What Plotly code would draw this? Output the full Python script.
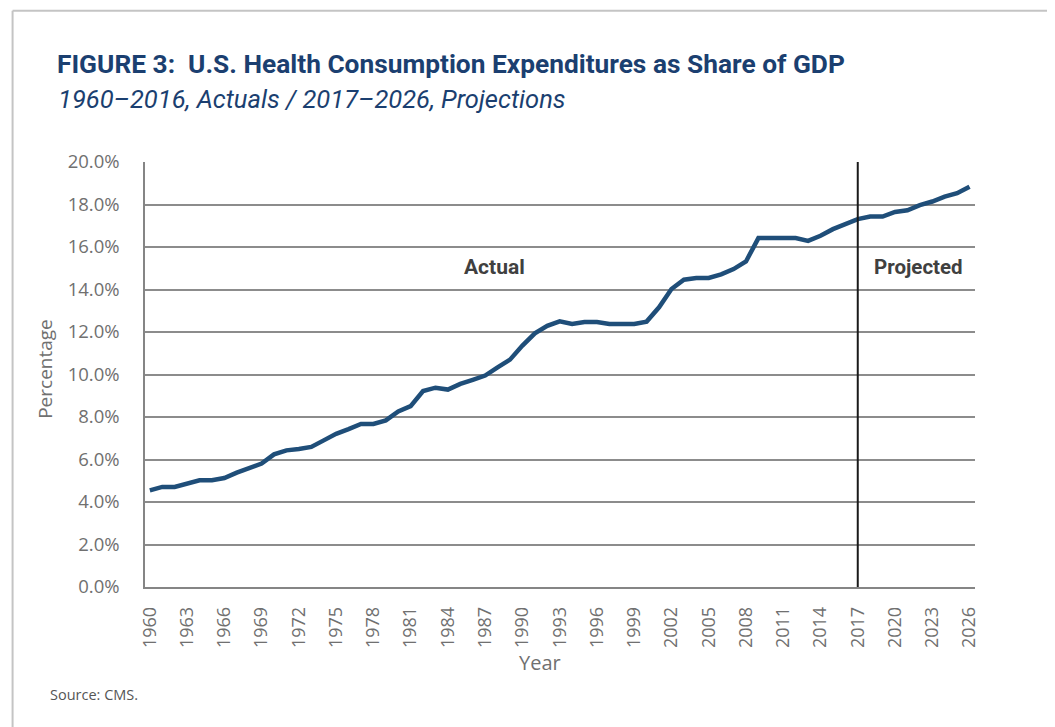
import plotly.graph_objects as go

years = list(range(1960, 2027))
share_pct = [
    4.55, 4.71, 4.71, 4.87, 5.02, 5.02, 5.13, 5.38, 5.62, 5.81,
    6.24, 6.43, 6.49, 6.59, 6.90, 7.21, 7.43, 7.67, 7.67, 7.84,
    8.26, 8.51, 9.22, 9.38, 9.29, 9.56, 9.75, 9.95, 10.34, 10.70,
    11.36, 11.94, 12.29, 12.50, 12.38, 12.47, 12.47, 12.38, 12.38, 12.38,
    12.49, 13.16, 14.02, 14.46, 14.54, 14.54, 14.71, 14.96, 15.32, 16.42,
    16.42, 16.42, 16.42, 16.29, 16.53, 16.84, 17.07, 17.31, 17.43, 17.43,
    17.65, 17.73, 17.97, 18.14, 18.37, 18.53, 18.84,
]
x_tick_years = list(range(1960, 2027, 3))
x_tick_text = [str(y) for y in x_tick_years]
y_tick_vals = [0, 2, 4, 6, 8, 10, 12, 14, 16, 18, 20]
y_tick_text = [f"{v:.1f}%" for v in y_tick_vals]
projection_start = 2017

OFF = 8  # page body margin
W, H = 1055 - OFF, 727 - OFF
L, R, T, B = 144.5 - OFF, 975.0 - OFF, 161.5 - OFF, 587.0 - OFF
PW, PH = R - L, B - T


def px(x):
    return (x - OFF - L) / PW


def py(y):
    return (B - (y - OFF)) / PH


GRAY = "#707070"
NAVY = "#1b3f70"
COND = "Roboto, sans-serif"

fig = go.Figure()
fig.add_trace(go.Scatter(
    x=years, y=share_pct, mode="lines",
    line=dict(color="#1f4e79", width=4.5),
    hoverinfo="x+y", showlegend=False,
))

fig.update_layout(
    width=W, height=H,
    margin=dict(l=L, r=W - R, t=T, b=H - B, pad=0),
    paper_bgcolor="white", plot_bgcolor="white",
    font=dict(family="Open Sans, sans-serif", color=GRAY),
    xaxis=dict(
        range=[1959.61, 2026.44], tickvals=x_tick_years, ticktext=x_tick_text,
        tickangle=-90, tickfont=dict(size=18, color=GRAY),
        showgrid=False, zeroline=False, showline=True, linecolor="#858585",
        linewidth=1.5, ticks="", ticklabelstandoff=11,
    ),
    yaxis=dict(
        range=[0, 20], tickvals=y_tick_vals, ticktext=y_tick_text,
        tickfont=dict(size=18.5, color=GRAY),
        showgrid=True, gridcolor="#8c8c8c", gridwidth=1.5,
        zeroline=False, showline=True, linecolor="#858585", linewidth=1.5,
        ticks="", ticklabelstandoff=20,
    ),
)

# Projection divider
fig.add_shape(type="line", xref="x", yref="y", x0=projection_start, x1=projection_start,
              y0=0, y1=20, line=dict(color="#1a1a1a", width=2))

# Card frame
fig.add_shape(type="line", xref="paper", yref="paper", x0=px(12), x1=px(1060),
              y0=py(10), y1=py(10), line=dict(color="#c4c4c4", width=2))
fig.add_shape(type="line", xref="paper", yref="paper", x0=px(12), x1=px(12),
              y0=py(10), y1=py(730), line=dict(color="#c4c4c4", width=2))

ann = []
ann.append(dict(text="<b>FIGURE 3:  U.S. Health Consumption Expenditures as Share of GDP</b>",
                x=px(54), y=py(63), xanchor="left", yanchor="middle",
                font=dict(family=COND, size=26.3, color=NAVY)))
ann.append(dict(text="<i>1960–2016, Actuals / 2017–2026, Projections</i>",
                x=px(55), y=py(98), xanchor="left", yanchor="middle",
                font=dict(family=COND, size=25.5, color=NAVY)))
ann.append(dict(text="<b>Actual</b>", x=px(494.5), y=py(267), xanchor="center", yanchor="middle",
                font=dict(family=COND, size=21, color="#404040")))
ann.append(dict(text="<b>Projected</b>", x=px(918), y=py(267), xanchor="center", yanchor="middle",
                font=dict(family=COND, size=20.5, color="#404040")))
ann.append(dict(text="Percentage", x=px(45), y=py(369), textangle=-90,
                xanchor="center", yanchor="middle", font=dict(size=19, color=GRAY)))
ann.append(dict(text="Year", x=px(540), y=py(663), xanchor="center", yanchor="middle",
                font=dict(size=20, color=GRAY)))
ann.append(dict(text="Source: CMS.", x=px(47), y=py(695), xanchor="left", yanchor="middle",
                font=dict(size=14.5, color="#555555")))
for a in ann:
    a.update(xref="paper", yref="paper", showarrow=False)
fig.update_layout(annotations=ann)

fig.write_html("out.html")
